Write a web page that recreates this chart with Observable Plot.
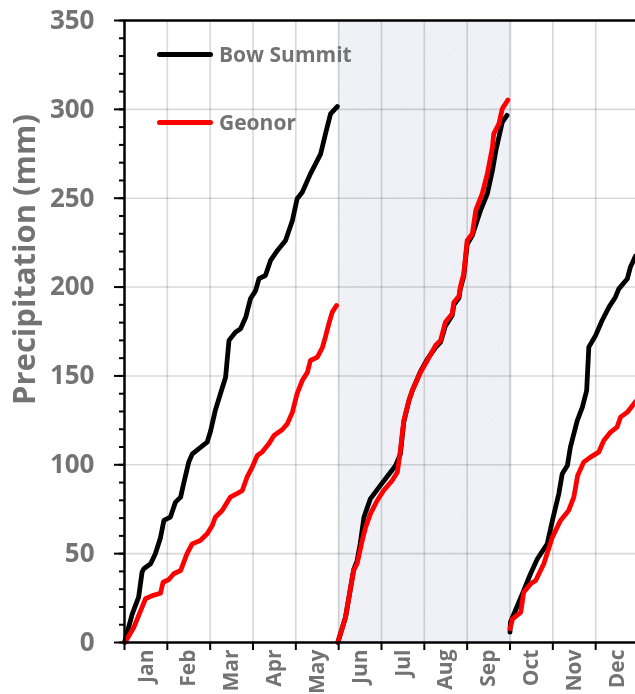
<!DOCTYPE html>
<html>
<head>
<meta charset="utf-8">
<script src="https://cdn.jsdelivr.net/npm/d3@7"></script>
<script src="https://cdn.jsdelivr.net/npm/@observablehq/plot@0.6"></script>
<style>
  body { margin: 0; background: #fff; }
  #chart { position: relative; width: 635px; height: 694px; font-family: "Open Sans", sans-serif; }
  .legend { position: absolute; left: 157px; display: flex; align-items: center;
            font-weight: 700; font-size: 21px; color: #737373; line-height: 1; }
  .swatch { width: 56px; height: 5px; border-radius: 3px; margin-right: 6px; }
</style>
</head>
<body>
<div id="chart"></div>
<script>
// Month names; x position is measured in months from 1 January (0 = Jan 1, 12 = Dec 31)
const months = ["Jan", "Feb", "Mar", "Apr", "May", "Jun", "Jul", "Aug", "Sep", "Oct", "Nov", "Dec"];
const yTicks = [0, 50, 100, 150, 200, 250, 300, 350];
const seriesNames = ["Bow Summit", "Geonor"];
const seriesColors = ["#000000", "#ff0000"];

// Summer period (June to September), shaded in the chart
const summerSpan = [{start: 4.99, end: 9.05}];

// Cumulative precipitation (mm), [month position, mm]; totals restart on Jun 1 and Oct 1
const bowJanMay = [
  [0, 0], [0.18, 16], [0.33, 25.5], [0.41, 39.6], [0.45, 41.5], [0.61, 44.3], [0.72, 50],
  [0.84, 59], [0.92, 68.7], [1.07, 70.5], [1.19, 79], [1.31, 81.8], [1.38, 89.3], [1.5, 101.5],
  [1.58, 106], [1.73, 109], [1.93, 112.7], [2.01, 119], [2.12, 130.6], [2.24, 140], [2.36, 149.3],
  [2.44, 170], [2.59, 174.6], [2.71, 176.5], [2.83, 183], [2.94, 193.4], [3.06, 198], [3.14, 204.7],
  [3.29, 206.5], [3.41, 215], [3.57, 220.6], [3.76, 226.2], [3.92, 237.5], [4.03, 249.7],
  [4.15, 253.4], [4.34, 263.7], [4.58, 275], [4.69, 286], [4.81, 297.5], [4.97, 301.6]
];
const bowJunSep = [
  [4.98, 0], [5.16, 14.2], [5.28, 31.1], [5.35, 41], [5.43, 46], [5.5, 55], [5.59, 70.5],
  [5.74, 80.8], [5.97, 88.3], [6.21, 95.8], [6.33, 99.6], [6.44, 106], [6.52, 124], [6.64, 136],
  [6.72, 141.8], [6.91, 152.5], [7.07, 159.5], [7.26, 166], [7.38, 169], [7.49, 178], [7.65, 184],
  [7.69, 190], [7.81, 194], [7.84, 199], [7.92, 206], [8.0, 224], [8.12, 229], [8.31, 243.1],
  [8.47, 252.5], [8.59, 265.6], [8.67, 276.8], [8.74, 284.3], [8.82, 292.8], [8.93, 296.6]
];
const bowOctDec = [
  [9.0, 5.8], [9.01, 11.4], [9.29, 27.4], [9.48, 38.7], [9.64, 47.1], [9.87, 55.5], [9.99, 68.7],
  [10.14, 83.7], [10.22, 95], [10.34, 99.6], [10.41, 109.9], [10.57, 124.9], [10.69, 132.4],
  [10.79, 141.8], [10.84, 166.2], [11.0, 172.8], [11.15, 181.2], [11.31, 188.7], [11.46, 194.3],
  [11.54, 199], [11.74, 204.7], [11.81, 211.2], [11.93, 217.5]
];
const geonorJanMay = [
  [0.01, 0], [0.22, 8.6], [0.41, 19.9], [0.49, 24.6], [0.65, 26.4], [0.84, 27.7], [0.9, 33.9],
  [1.03, 35.3], [1.15, 38.7], [1.31, 40.5], [1.46, 50], [1.58, 55.5], [1.77, 57.4], [1.93, 61.2],
  [2.05, 65.8], [2.12, 70.5], [2.28, 74.3], [2.47, 81.8], [2.59, 83.3], [2.75, 85.5], [2.86, 93],
  [2.98, 98.6], [3.1, 105.2], [3.21, 107.1], [3.37, 111.8], [3.49, 116.5], [3.68, 119.7],
  [3.8, 123], [3.92, 129.6], [4.03, 140], [4.15, 147.4], [4.27, 152], [4.34, 158.7], [4.5, 160.5],
  [4.62, 166], [4.69, 171.8], [4.77, 179.3], [4.85, 185.9], [4.95, 189.6]
];
const geonorJunSep = [
  [4.98, 0], [5.16, 14.2], [5.28, 31.1], [5.35, 40.5], [5.43, 44.3], [5.55, 57.4], [5.63, 64.9],
  [5.74, 72.4], [5.9, 79.9], [6.05, 85.5], [6.25, 91.2], [6.37, 95.8], [6.44, 108], [6.52, 124.9],
  [6.64, 136.2], [6.72, 141.8], [6.91, 152.1], [7.07, 158.7], [7.26, 167.1], [7.38, 170],
  [7.49, 180.2], [7.65, 185], [7.69, 191.5], [7.81, 195], [7.84, 200], [7.92, 207.5], [8.0, 226.2],
  [8.12, 230], [8.2, 243.1], [8.35, 252.5], [8.47, 263.7], [8.59, 278.7], [8.62, 286.2],
  [8.74, 291.8], [8.82, 300.3], [8.95, 305.3]
];
const geonorOctDec = [
  [9.0, 7.7], [9.06, 13.3], [9.25, 17], [9.32, 28.3], [9.48, 33], [9.6, 34.9], [9.79, 44.3],
  [9.99, 59.3], [10.18, 68.7], [10.37, 74.3], [10.49, 81.8], [10.58, 94], [10.72, 101.5],
  [10.88, 104.3], [11.07, 107.1], [11.19, 113.7], [11.35, 118.4], [11.5, 121.2], [11.58, 126.8],
  [11.74, 129.6], [11.93, 135.5]
];

// Long-format rows; each season is its own line segment
const segments = [
  ["Bow Summit", "bow-1", bowJanMay], ["Bow Summit", "bow-2", bowJunSep], ["Bow Summit", "bow-3", bowOctDec],
  ["Geonor", "geo-1", geonorJanMay], ["Geonor", "geo-2", geonorJunSep], ["Geonor", "geo-3", geonorOctDec]
];
const rows = segments.flatMap(([series, segment, pts]) =>
  pts.map(([t, mm]) => ({series, segment, t, mm})));

const grey = "#737373";
const gridColor = "#d9d9d9";

const plot = Plot.plot({
  width: 635,
  height: 694,
  marginLeft: 124,
  marginRight: 0,
  marginTop: 20,
  marginBottom: 52,
  style: {fontFamily: "'Open Sans', sans-serif", fontWeight: "bold", background: "#fff", overflow: "visible"},
  x: {domain: [0, 11.93]},
  y: {domain: [0, 350]},
  color: {domain: seriesNames, range: seriesColors},
  marks: [
    Plot.rect(summerSpan, {x1: "start", x2: "end", fill: "#f0f2f7", className: "summer"}),
    // grid multiplied over the band so it reads darker inside the shading
    Plot.gridX(d3.range(1, 12), {stroke: gridColor, strokeOpacity: 1, strokeWidth: 1.6, mixBlendMode: "multiply"}),
    Plot.gridY(yTicks.slice(1, -1), {stroke: gridColor, strokeOpacity: 1, strokeWidth: 1.6, mixBlendMode: "multiply"}),
    Plot.line(rows, {x: "t", y: "mm", z: "segment", stroke: "series", strokeWidth: 4.8,
                     strokeLinejoin: "round", strokeLinecap: "round", curve: "linear"}),
    // minor and major ticks on the y axis
    Plot.axisY({ticks: d3.range(0, 351, 10), tickSize: 5, tickFormat: () => "", label: null,
                stroke: "#000", strokeWidth: 2}),
    Plot.axisY({ticks: yTicks, tickSize: 10, tickPadding: 20, fontSize: 26, fontWeight: "bold",
                fill: grey, label: null, stroke: "#000", strokeWidth: 2}),
    // month boundary ticks and centred month names
    Plot.axisX({ticks: d3.range(0, 12), tickSize: 8, tickFormat: () => "", label: null,
                stroke: "#000", strokeWidth: 2}),
    Plot.axisX({ticks: d3.range(12).map(i => i + 0.5), tickSize: 0, tickPadding: 7, tickRotate: -90,
                tickFormat: d => months[Math.floor(d)], fontSize: 21, fontWeight: "bold",
                fill: grey, label: null}),
    Plot.ruleY([0], {stroke: "#000", strokeWidth: 2.5}),
    Plot.ruleY([350], {stroke: "#000", strokeWidth: 2.5}),
    Plot.ruleX([0], {stroke: "#000", strokeWidth: 2.5}),
    Plot.text(["Precipitation (mm)"], {frameAnchor: "top-left", dx: -99, dy: 239, rotate: -90,
              textAnchor: "middle", lineAnchor: "middle",
              fontSize: 31, fontWeight: "bold", fill: grey})
  ]
});

// Fine grain texture on the shaded summer band
const ns = "http://www.w3.org/2000/svg";
const defs = document.createElementNS(ns, "defs");
defs.innerHTML = `
  <filter id="grain" x="0" y="0" width="100%" height="100%">
    <feTurbulence type="fractalNoise" baseFrequency="0.85" numOctaves="2" seed="3" result="noise"/>
    <feColorMatrix in="noise" type="matrix"
      values="0 0 0 0 0.70  0 0 0 0 0.73  0 0 0 0 0.80  0.4 0 0 0 -0.16" result="tint"/>
    <feComposite in="tint" in2="SourceGraphic" operator="in" result="spots"/>
    <feMerge><feMergeNode in="SourceGraphic"/><feMergeNode in="spots"/></feMerge>
  </filter>`;
plot.insertBefore(defs, plot.firstChild);
const band = plot.querySelector(".summer");
if (band) band.setAttribute("filter", "url(#grain)");

const chart = document.getElementById("chart");
chart.appendChild(plot);

// Legend drawn inside the plot area
const legendRows = [{name: seriesNames[0], color: seriesColors[0], top: 44},
                    {name: seriesNames[1], color: seriesColors[1], top: 112}];
for (const item of legendRows) {
  const row = document.createElement("div");
  row.className = "legend";
  row.style.top = item.top + "px";
  const sw = document.createElement("div");
  sw.className = "swatch";
  sw.style.background = item.color;
  const label = document.createElement("span");
  label.textContent = item.name;
  row.append(sw, label);
  chart.appendChild(row);
}
</script>
</body>
</html>
